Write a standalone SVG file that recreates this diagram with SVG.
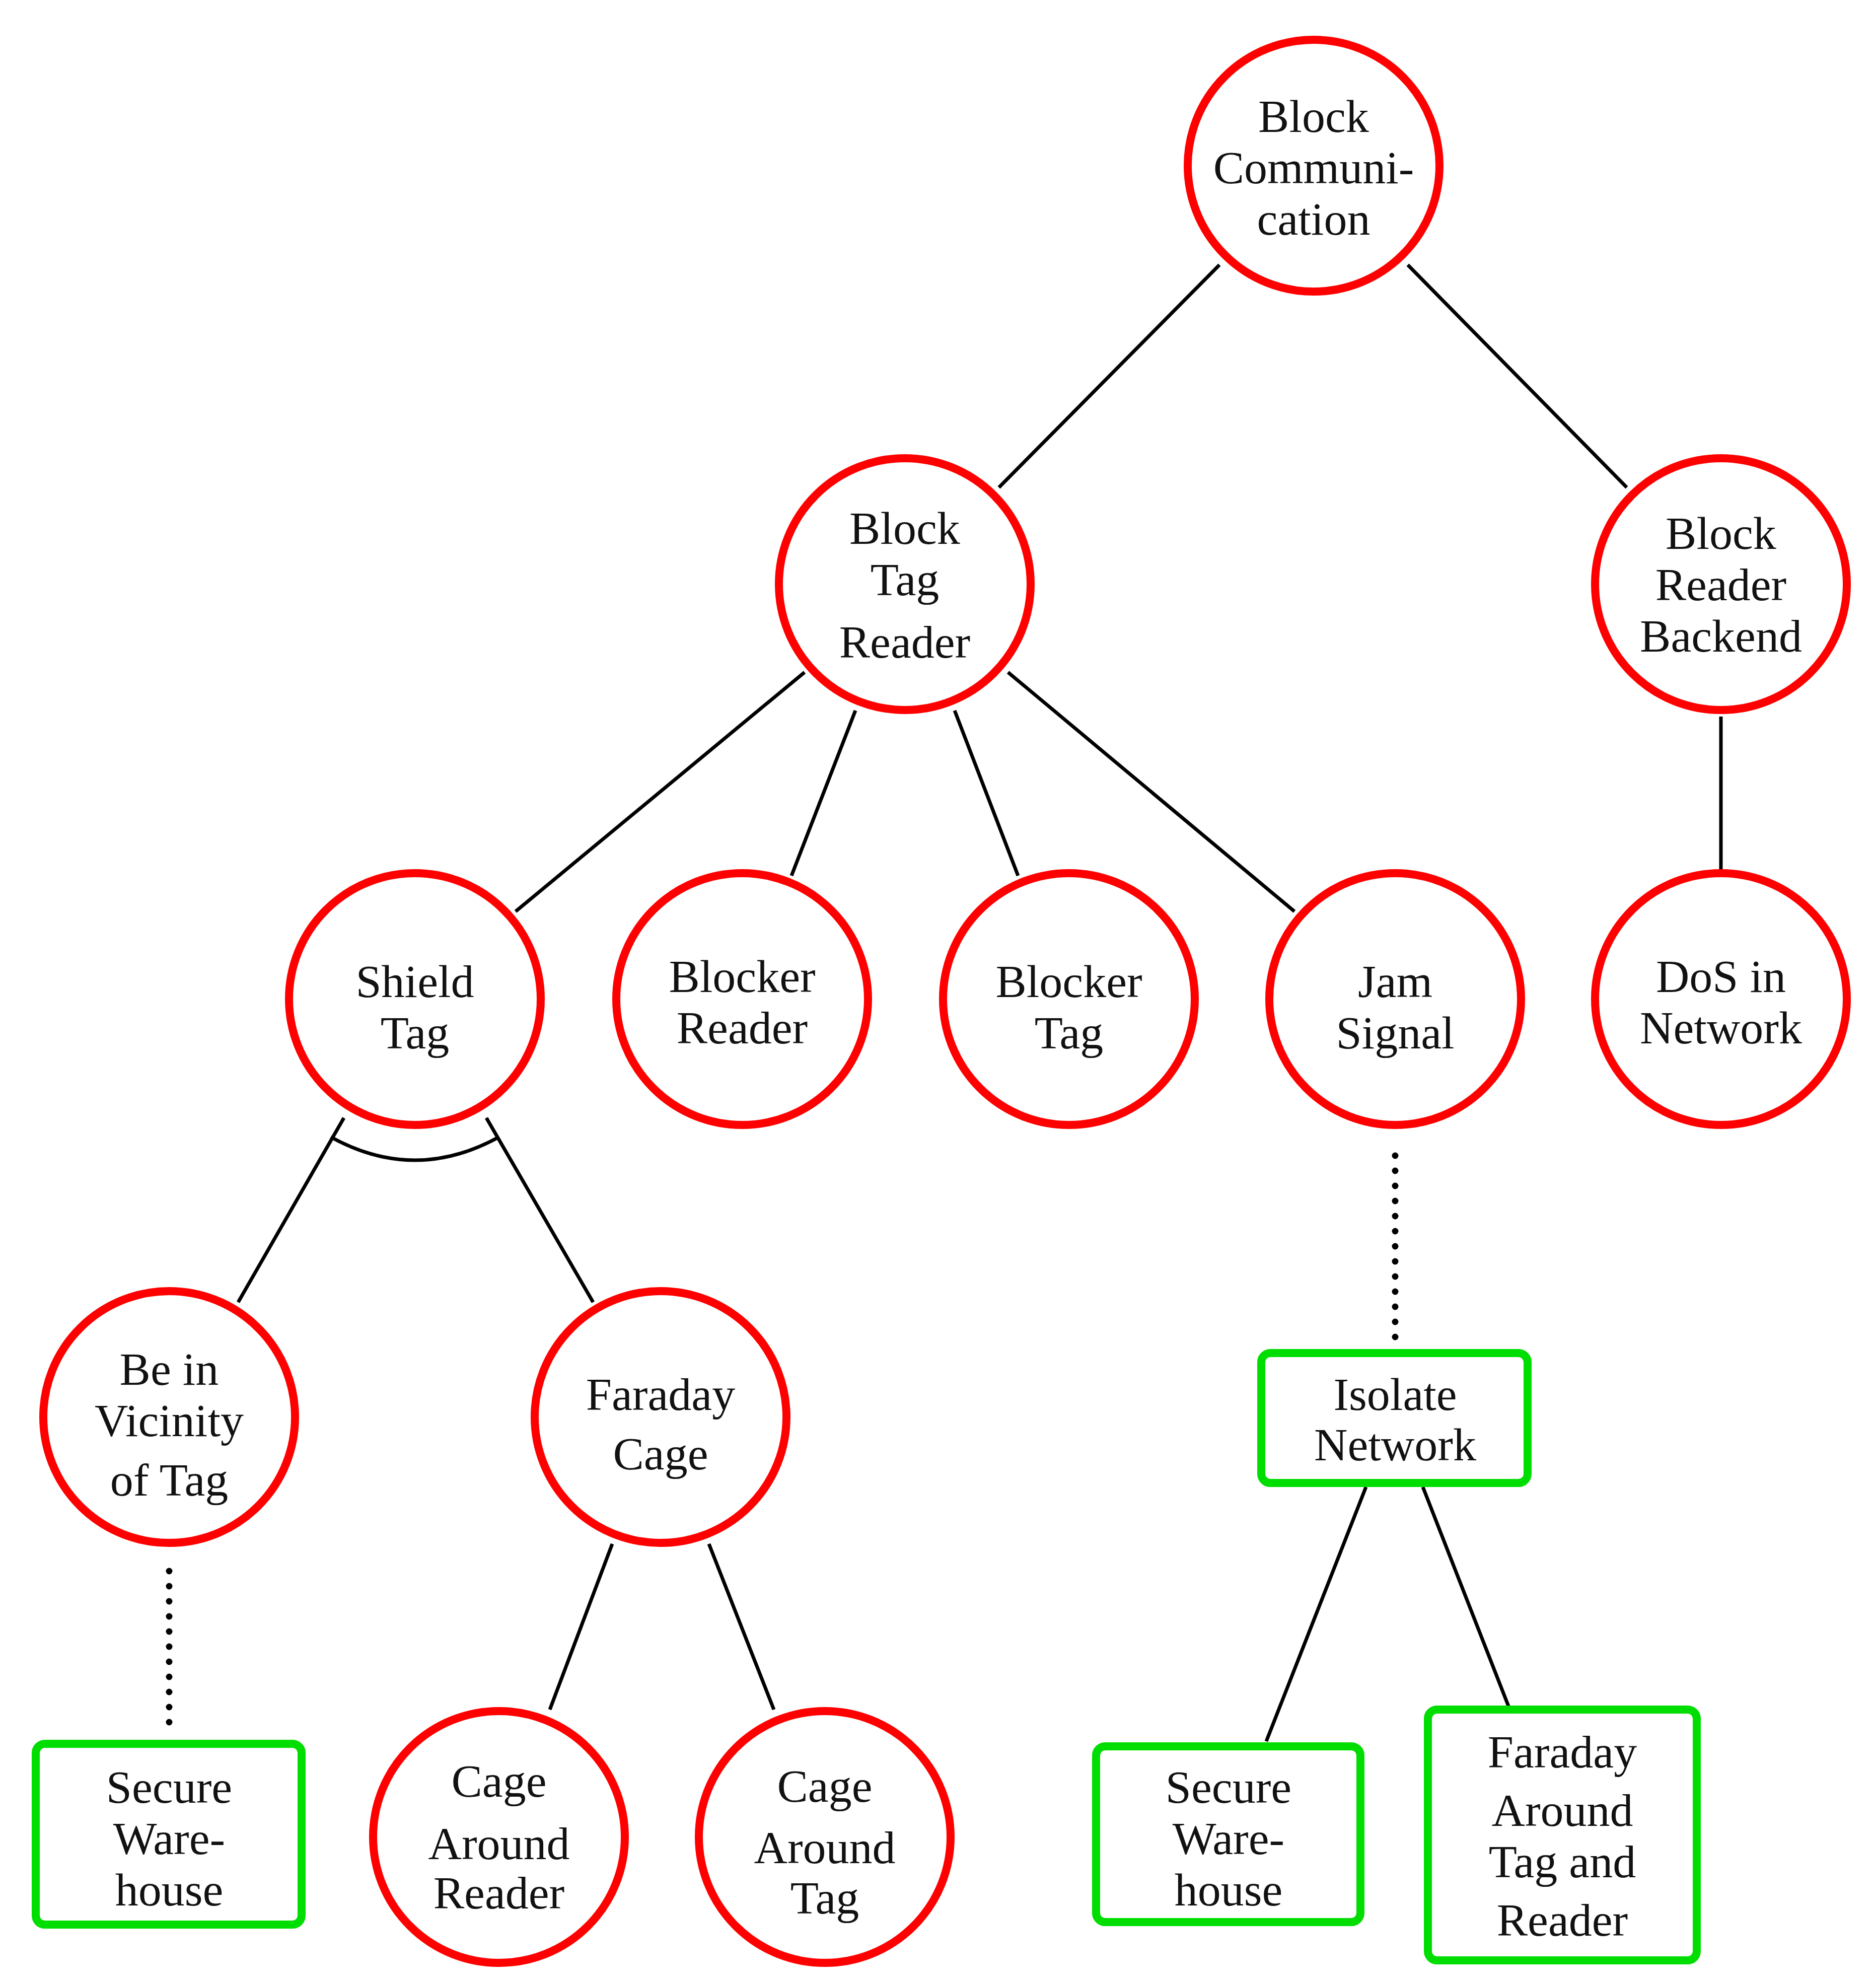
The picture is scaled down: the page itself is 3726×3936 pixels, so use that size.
<svg xmlns="http://www.w3.org/2000/svg" width="3726" height="3936" viewBox="0 0 3726 3936">
<style>
.c{fill:#fff;stroke:#f00;stroke-width:16}
.r{fill:#fff;stroke:#0d0;stroke-width:16}
.e{stroke:#000;stroke-width:7;fill:none}
.d{stroke:#000;stroke-width:13;stroke-linecap:round;stroke-dasharray:0 30;fill:none}
text{font-family:"Liberation Serif",serif;font-size:92px;fill:#111;text-anchor:middle}
</style>
<rect width="3726" height="3936" fill="#fff"/>
<g id="connectors">
<line class="e" x1="2422" y1="526" x2="1984" y2="968"/>
<line class="e" x1="2796" y1="526" x2="3231" y2="968"/>
<line class="e" x1="1598" y1="1335" x2="1024" y2="1810"/>
<line class="e" x1="1699" y1="1411" x2="1572" y2="1739"/>
<line class="e" x1="1896" y1="1411" x2="2022" y2="1739"/>
<line class="e" x1="2002" y1="1335" x2="2571" y2="1810"/>
<line class="e" x1="3418" y1="1423" x2="3418" y2="1727"/>
<line class="e" x1="683" y1="2220" x2="473" y2="2586"/>
<line class="e" x1="966" y1="2220" x2="1178" y2="2586"/>
<path class="e" d="M657 2258 Q824 2350 991 2258"/>
<line class="d" x1="2771" y1="2295" x2="2771" y2="2660"/>
<line class="d" x1="336" y1="3120" x2="336" y2="3433"/>
<line class="e" x1="1216" y1="3066" x2="1092" y2="3395"/>
<line class="e" x1="1408" y1="3066" x2="1537" y2="3395"/>
<line class="e" x1="2713" y1="2953" x2="2515" y2="3458"/>
<line class="e" x1="2826" y1="2953" x2="2996" y2="3388"/>
</g>
<g id="n1"><circle class="c" cx="2609" cy="329" r="250"/><text x="2609" y="262">Block</text><text x="2609" y="364">Communi-</text><text x="2609" y="466">cation</text></g>
<g id="n2"><circle class="c" cx="1797" cy="1160" r="250"/><text x="1797" y="1080">Block</text><text x="1797" y="1182">Tag</text><text x="1797" y="1306">Reader</text></g>
<g id="n3"><circle class="c" cx="3418" cy="1160" r="250"/><text x="3418" y="1090">Block</text><text x="3418" y="1192">Reader</text><text x="3418" y="1294">Backend</text></g>
<g id="n4"><circle class="c" cx="824" cy="1984" r="250"/><text x="824" y="1980">Shield</text><text x="824" y="2082">Tag</text></g>
<g id="n5"><circle class="c" cx="1474" cy="1984" r="250"/><text x="1474" y="1970">Blocker</text><text x="1474" y="2072">Reader</text></g>
<g id="n6"><circle class="c" cx="2123" cy="1984" r="250"/><text x="2123" y="1980">Blocker</text><text x="2123" y="2082">Tag</text></g>
<g id="n7"><circle class="c" cx="2771" cy="1984" r="250"/><text x="2771" y="1980">Jam</text><text x="2771" y="2082">Signal</text></g>
<g id="n8"><circle class="c" cx="3418" cy="1984" r="250"/><text x="3418" y="1970">DoS in</text><text x="3418" y="2072">Network</text></g>
<g id="n9"><circle class="c" cx="336" cy="2814" r="250"/><text x="336" y="2750">Be in</text><text x="336" y="2852">Vicinity</text><text x="336" y="2970">of Tag</text></g>
<g id="n10"><circle class="c" cx="1312" cy="2814" r="250"/><text x="1312" y="2800">Faraday</text><text x="1312" y="2918">Cage</text></g>
<g id="n11"><rect class="r" x="2505" y="2687" width="529" height="258" rx="18"/><text x="2771" y="2800">Isolate</text><text x="2771" y="2900">Network</text></g>
<g id="n12"><rect class="r" x="71" y="3463" width="528" height="359" rx="18"/><text x="336" y="3580">Secure</text><text x="336" y="3682">Ware-</text><text x="336" y="3784">house</text></g>
<g id="n13"><circle class="c" cx="991" cy="3648" r="250"/><text x="991" y="3568">Cage</text><text x="991" y="3692">Around</text><text x="991" y="3790">Reader</text></g>
<g id="n14"><circle class="c" cx="1638" cy="3648" r="250"/><text x="1638" y="3578">Cage</text><text x="1638" y="3700">Around</text><text x="1638" y="3800">Tag</text></g>
<g id="n15"><rect class="r" x="2177" y="3468" width="525" height="349" rx="18"/><text x="2440" y="3580">Secure</text><text x="2440" y="3682">Ware-</text><text x="2440" y="3784">house</text></g>
<g id="n16"><rect class="r" x="2836" y="3395" width="534" height="498" rx="18"/><text x="3103" y="3510">Faraday</text><text x="3103" y="3626">Around</text><text x="3103" y="3728">Tag and</text><text x="3103" y="3844">Reader</text></g>
</svg>
